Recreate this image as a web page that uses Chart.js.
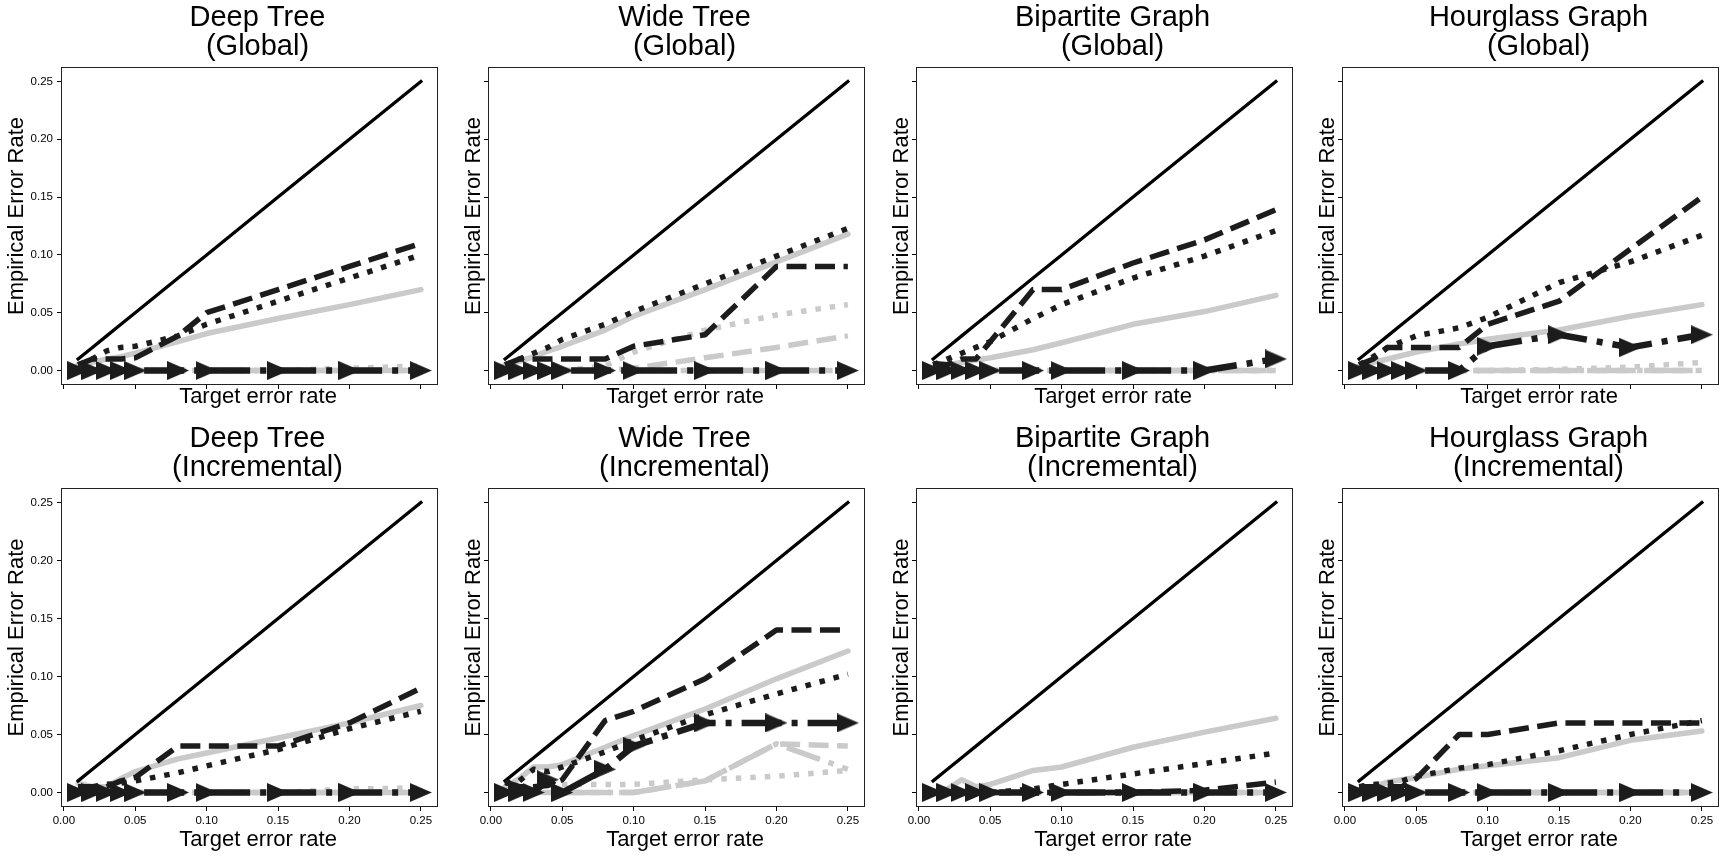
<!DOCTYPE html>
<html>
<head>
<meta charset="utf-8">
<script src="https://cdn.jsdelivr.net/npm/chart.js@4.4.1/dist/chart.umd.min.js"></script>
<style>
  html, body { margin: 0; padding: 0; background: #fff; }
  #wrap { position: relative; width: 1734px; height: 857px; overflow: hidden; background: #fff; }
  #wrap canvas { position: absolute; }
</style>
</head>
<body>
<div id="wrap"></div>
<script>
// x positions shared by every panel
const targetRates = [0.01, 0.02, 0.03, 0.04, 0.05, 0.08, 0.10, 0.15, 0.20, 0.25];
const idealRate   = [0.01, 0.02, 0.03, 0.04, 0.05, 0.08, 0.10, 0.15, 0.20, 0.25];
const axisTicks   = [0.00, 0.05, 0.10, 0.15, 0.20, 0.25];

const graphNames = ['Deep Tree', 'Wide Tree', 'Bipartite Graph', 'Hourglass Graph'];
const modeNames  = ['(Global)', '(Incremental)'];
const xLabel = 'Target error rate';
const yLabel = 'Empirical Error Rate';

// Deep Tree (Global)
const deepGlobalDashed   = [0.005, 0.01, 0.01, 0.01, 0.011, 0.03, 0.05, 0.07, 0.09, 0.11];
const deepGlobalDotted   = [0.005, 0.01, 0.017, 0.02, 0.021, 0.03, 0.04, 0.06, 0.08, 0.10];
const deepGlobalGray     = [0.005, 0.007, 0.01, 0.012, 0.015, 0.025, 0.032, 0.045, 0.057, 0.07];
const deepGlobalGrayDot  = [0, 0, 0, 0, 0, 0, 0, 0, 0.002, 0.004];
const deepGlobalGrayDash = [0, 0, 0, 0, 0, 0, 0, 0, 0, 0];
const deepGlobalGrayDD   = [0, 0, 0, 0, 0, 0, 0, 0, 0, 0];
const deepGlobalArrow    = [0, 0, 0, 0, 0, 0, 0, 0, 0, 0];

// Wide Tree (Global)
const wideGlobalDashed   = [0.005, 0.01, 0.01, 0.01, 0.01, 0.01, 0.021, 0.031, 0.09, 0.09];
const wideGlobalDotted   = [0.005, 0.01, 0.015, 0.02, 0.027, 0.04, 0.051, 0.075, 0.099, 0.123];
const wideGlobalGray     = [0.005, 0.008, 0.012, 0.017, 0.021, 0.035, 0.047, 0.07, 0.094, 0.118];
const wideGlobalGrayDot  = [0, 0, 0, 0, 0, 0.004, 0.016, 0.035, 0.048, 0.057];
const wideGlobalGrayDash = [0, 0, 0, 0, 0, 0, 0.002, 0.011, 0.02, 0.03];
const wideGlobalGrayDD   = [0, 0, 0, 0, 0, 0, 0, 0, 0, 0];
const wideGlobalArrow    = [0, 0, 0, 0, 0, 0, 0, 0, 0, 0];

// Bipartite Graph (Global)
const bipGlobalDashed    = [0.006, 0.005, 0.01, 0.01, 0.025, 0.07, 0.07, 0.093, 0.113, 0.139];
const bipGlobalDotted    = [0.005, 0.01, 0.015, 0.02, 0.025, 0.045, 0.057, 0.08, 0.099, 0.121];
const bipGlobalGray      = [0.003, 0.005, 0.007, 0.009, 0.011, 0.018, 0.024, 0.04, 0.051, 0.065];
const bipGlobalGrayDot   = [0, 0, 0, 0, 0, 0, 0, 0, 0, 0];
const bipGlobalGrayDash  = [0, 0, 0, 0, 0, 0, 0, 0, 0, 0];
const bipGlobalGrayDD    = [0, 0, 0, 0, 0, 0, 0, 0, 0, 0];
const bipGlobalArrow     = [0, 0, 0, 0, 0, 0, 0, 0, 0, 0.01];

// Hourglass Graph (Global)
const hourGlobalDashed   = [0.005, 0.01, 0.02, 0.02, 0.02, 0.02, 0.04, 0.06, 0.105, 0.15];
const hourGlobalDotted   = [0.005, 0.012, 0.02, 0.025, 0.03, 0.037, 0.046, 0.076, 0.094, 0.117];
const hourGlobalGray     = [0.004, 0.007, 0.01, 0.013, 0.016, 0.023, 0.027, 0.035, 0.047, 0.057];
const hourGlobalGrayDot  = [0, 0, 0, 0, 0, 0, 0, 0.001, 0.003, 0.007];
const hourGlobalGrayDash = [0, 0, 0, 0, 0, 0, 0, 0, 0, 0];
const hourGlobalGrayDD   = [0, 0, 0, 0, 0, 0, 0, 0, 0, 0];
const hourGlobalArrow    = [0, 0, 0, 0, 0, 0, 0.021, 0.031, 0.02, 0.031];

// Deep Tree (Incremental)
const deepIncrDashed     = [0.005, 0.005, 0.005, 0.01, 0.013, 0.04, 0.04, 0.04, 0.06, 0.09];
const deepIncrDotted     = [0.005, 0.005, 0.007, 0.008, 0.01, 0.017, 0.023, 0.037, 0.055, 0.07];
const deepIncrGray       = [0.008, 0.005, 0.005, 0.012, 0.018, 0.029, 0.034, 0.047, 0.06, 0.075];
const deepIncrGrayDot    = [0, 0, 0, 0, 0, 0, 0, 0, 0.003, 0.004];
const deepIncrGrayDash   = [0, 0, 0, 0, 0, 0, 0, 0, 0, 0];
const deepIncrGrayDD     = [0, 0, 0, 0, 0, 0, 0, 0, 0, 0];
const deepIncrArrow      = [0, 0, 0, 0, 0, 0, 0, 0, 0, 0];

// Wide Tree (Incremental)
const wideIncrDashed     = [0.009, 0.005, 0.005, 0.006, 0.011, 0.062, 0.07, 0.098, 0.14, 0.14];
const wideIncrDotted     = [0.008, 0.01, 0.02, 0.018, 0.022, 0.035, 0.045, 0.067, 0.085, 0.102];
const wideIncrGray       = [0.005, 0.012, 0.022, 0.022, 0.024, 0.039, 0.049, 0.072, 0.098, 0.122];
const wideIncrGrayDot    = [0, 0, 0.003, 0.007, 0.007, 0.007, 0.007, 0.011, 0.014, 0.019];
const wideIncrGrayDash   = [0, 0, 0, 0, 0, 0, 0, 0.01, 0.042, 0.04];
const wideIncrGrayDD     = [0, 0, 0, 0, 0, 0, 0, 0.01, 0.042, 0.02];
const wideIncrArrow      = [0, 0, 0, 0.011, 0, 0.02, 0.04, 0.06, 0.06, 0.06];

// Bipartite Graph (Incremental)
const bipIncrDashed      = [0, 0, 0, 0, 0, 0, 0, 0, 0.002, 0.009];
const bipIncrDotted      = [0, 0, 0, 0, 0, 0.003, 0.007, 0.016, 0.025, 0.034];
const bipIncrGray        = [0, 0.003, 0.011, 0.005, 0.007, 0.019, 0.022, 0.039, 0.052, 0.064];
const bipIncrGrayDot     = [0, 0, 0, 0, 0, 0, 0, 0, 0, 0];
const bipIncrGrayDash    = [0, 0, 0, 0, 0, 0, 0, 0, 0, 0];
const bipIncrGrayDD      = [0, 0, 0, 0, 0, 0, 0, 0, 0, 0];
const bipIncrArrow       = [0, 0, 0, 0, 0, 0, 0, 0, 0, 0];

// Hourglass Graph (Incremental)
const hourIncrDashed     = [0.005, 0.005, 0.005, 0.005, 0.012, 0.05, 0.05, 0.06, 0.06, 0.06];
const hourIncrDotted     = [0.005, 0.007, 0.008, 0.01, 0.014, 0.021, 0.024, 0.036, 0.05, 0.062];
const hourIncrGray       = [0.002, 0.005, 0.009, 0.011, 0.013, 0.02, 0.023, 0.03, 0.045, 0.053];
const hourIncrGrayDot    = [0, 0, 0, 0, 0, 0, 0, 0, 0, 0];
const hourIncrGrayDash   = [0, 0, 0, 0, 0, 0, 0, 0, 0, 0];
const hourIncrGrayDD     = [0, 0, 0, 0, 0, 0, 0, 0, 0, 0];
const hourIncrArrow      = [0, 0, 0, 0, 0, 0, 0, 0, 0, 0];

const panelSeries = [
  [deepGlobalDashed, deepGlobalDotted, deepGlobalGray, deepGlobalGrayDot, deepGlobalGrayDash, deepGlobalGrayDD, deepGlobalArrow],
  [wideGlobalDashed, wideGlobalDotted, wideGlobalGray, wideGlobalGrayDot, wideGlobalGrayDash, wideGlobalGrayDD, wideGlobalArrow],
  [bipGlobalDashed, bipGlobalDotted, bipGlobalGray, bipGlobalGrayDot, bipGlobalGrayDash, bipGlobalGrayDD, bipGlobalArrow],
  [hourGlobalDashed, hourGlobalDotted, hourGlobalGray, hourGlobalGrayDot, hourGlobalGrayDash, hourGlobalGrayDD, hourGlobalArrow],
  [deepIncrDashed, deepIncrDotted, deepIncrGray, deepIncrGrayDot, deepIncrGrayDash, deepIncrGrayDD, deepIncrArrow],
  [wideIncrDashed, wideIncrDotted, wideIncrGray, wideIncrGrayDot, wideIncrGrayDash, wideIncrGrayDD, wideIncrArrow],
  [bipIncrDashed, bipIncrDotted, bipIncrGray, bipIncrGrayDot, bipIncrGrayDash, bipIncrGrayDD, bipIncrArrow],
  [hourIncrDashed, hourIncrDotted, hourIncrGray, hourIncrGrayDot, hourIncrGrayDash, hourIncrGrayDD, hourIncrArrow]
];

// ---- styles ----
const DARK = '#1c1c1c';
const GRAY = '#cacaca';
const TEXT_FONT = '"Liberation Sans", Arial, Helvetica, sans-serif';
const TICK_FONT = '"Liberation Sans Narrow", "Liberation Sans", Arial, sans-serif';

function arrowMarker(w, h, color) {
  const c = document.createElement('canvas');
  c.width = w; c.height = h;
  const g = c.getContext('2d');
  g.fillStyle = color;
  g.beginPath();
  g.moveTo(0, 0); g.lineTo(w, h / 2); g.lineTo(0, h); g.closePath();
  g.fill();
  return c;
}
const arrow = arrowMarker(22, 19, DARK);

// [label, color, width, dash, order]
const styles = [
  ['dashed',     DARK, 5.5, [20, 8.5],        1],
  ['dotted',     DARK, 5.5, [5.5, 9],         2],
  ['gray',       GRAY, 5.5, [],               4],
  ['grayDotted', GRAY, 5.5, [5.5, 9],         6],
  ['grayDashed', GRAY, 5.5, [20, 8.5],        5],
  ['grayDD',     GRAY, 5.5, [35, 9, 5.5, 9],  7],
  ['arrow',      DARK, 6.5, [40, 10, 6, 10],  0]
];

// plot boxes (px)
const colLeft = [61, 488, 916, 1342];
const rowTop  = [0, 421];
const Y_AXIS_W = 61, PLOT_W = 385, TOP_PAD = 67;
const plotHeight = [318, 319];
const rowHeight = [416, 436];

function decor(row, col, title) {
  return {
    id: 'decor',
    afterDatasetsDraw(chart) {
      const a = chart.chartArea, ctx = chart.ctx;
      ctx.save();
      ctx.strokeStyle = '#222';
      ctx.lineWidth = 1;
      ctx.strokeRect(Math.round(a.left) + 0.5, Math.round(a.top) + 0.5,
        Math.round(a.right - a.left) - 1, Math.round(a.bottom - a.top) - 1);
      ctx.restore();
    },
    afterDraw(chart) {
      const a = chart.chartArea, ctx = chart.ctx;
      const cx = (a.left + a.right) / 2, cy = (a.top + a.bottom) / 2;
      ctx.save();
      ctx.fillStyle = '#000';
      ctx.textAlign = 'center';
      ctx.textBaseline = 'alphabetic';
      ctx.font = '29px ' + TEXT_FONT;
      ctx.fillText(title[0], cx + 8, a.top - 41);
      ctx.fillText(title[1], cx + 8, a.top - 12);
      ctx.font = '22px ' + TEXT_FONT;
      ctx.fillText(xLabel, cx + 8.5, a.bottom + (row === 0 ? 18 : 39));
      ctx.translate(a.left - (col === 0 ? 38 : 8.3), cy - 10);
      ctx.rotate(-Math.PI / 2);
      ctx.fillText(yLabel, 0, 0);
      ctx.restore();
    }
  };
}

const wrap = document.getElementById('wrap');

panelSeries.forEach((series, p) => {
  const row = Math.floor(p / 4), col = p % 4;
  const canvas = document.createElement('canvas');
  const w = Y_AXIS_W + PLOT_W + 2, h = rowHeight[row];
  canvas.width = w; canvas.height = h;
  canvas.style.left = (colLeft[col] - Y_AXIS_W) + 'px';
  canvas.style.top = rowTop[row] + 'px';
  canvas.style.width = w + 'px'; canvas.style.height = h + 'px';
  wrap.appendChild(canvas);

  const datasets = [{
    label: 'target',
    data: targetRates.map((x, i) => ({ x, y: idealRate[i] })),
    borderColor: '#000', borderWidth: 3.3, borderCapStyle: 'square',
    pointRadius: 0, order: 3
  }];
  styles.forEach(([label, color, width, dash, order], k) => {
    const ys = series[k];
    const isArrow = label === 'arrow';
    datasets.push({
      label,
      data: targetRates.map((x, i) => ({ x, y: ys[i] })),
      borderColor: color, borderWidth: width, borderDash: dash,
      borderCapStyle: dash.length ? 'butt' : 'round',
      pointRadius: isArrow ? 10 : 0,
      pointStyle: isArrow ? arrow : 'circle',
      pointBackgroundColor: color, pointBorderWidth: 0,
      order
    });
  });

  new Chart(canvas, {
    type: 'line',
    data: { datasets },
    options: {
      responsive: false,
      animation: false,
      devicePixelRatio: 1,
      layout: { padding: { top: TOP_PAD, left: 0, right: 2, bottom: 0 } },
      elements: { line: { tension: 0, borderJoinStyle: 'round' } },
      plugins: { legend: { display: false }, tooltip: { enabled: false }, title: { display: false } },
      scales: {
        x: {
          type: 'linear', bounds: 'data', min: -0.002, max: 0.262,
          afterBuildTicks: s => { s.ticks = axisTicks.map(v => ({ value: v })); },
          afterFit: s => { s.height = h - TOP_PAD - plotHeight[row]; },
          grid: { display: true, drawOnChartArea: false, drawTicks: true, tickLength: 4, tickColor: '#000', lineWidth: 1 },
          border: { display: false },
          ticks: {
            display: row === 1, padding: 3, color: '#000', maxRotation: 0, autoSkip: false,
            font: { family: TICK_FONT, size: 11.5 },
            callback: v => Number(v).toFixed(2)
          }
        },
        y: {
          type: 'linear', bounds: 'data', min: -0.0125, max: 0.2625,
          afterBuildTicks: s => { s.ticks = axisTicks.map(v => ({ value: v })); },
          afterFit: s => { s.width = Y_AXIS_W; },
          grid: { display: true, drawOnChartArea: false, drawTicks: true, tickLength: 4, tickColor: '#000', lineWidth: 1 },
          border: { display: false },
          ticks: {
            display: col === 0, padding: 4, color: '#000', autoSkip: false,
            font: { family: TICK_FONT, size: 11.5 },
            callback: v => Number(v).toFixed(2)
          }
        }
      }
    },
    plugins: [decor(row, col, [graphNames[col], modeNames[row]])]
  });
});
</script>
</body>
</html>
